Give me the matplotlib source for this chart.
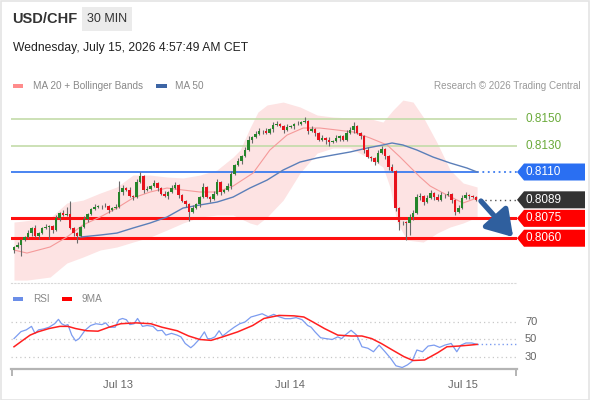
import matplotlib
matplotlib.use("Agg")
import matplotlib.pyplot as plt
import matplotlib.transforms as mtransforms
from matplotlib.patches import Polygon, Rectangle
import numpy as np

plt.rcParams['font.family'] = ['Liberation Sans', 'DejaVu Sans']

# ---------------- data ----------------
first_open = 0.80511
closes = [
    0.80534, 0.80549, 0.80586, 0.80609, 0.80639, 0.80677, 0.80617, 0.80639, 0.80677, 0.80685,
    0.80692, 0.80662, 0.80753, 0.80790, 0.80775, 0.80783, 0.80677, 0.80639, 0.80617, 0.80685,
    0.80745, 0.80783, 0.80821, 0.80836, 0.80843, 0.80843, 0.80843, 0.80813, 0.80828, 0.80836,
    0.80949, 0.80979, 0.80964, 0.80919, 0.80911, 0.81024, 0.81070, 0.80964, 0.80972, 0.80994,
    0.81017, 0.80979, 0.80934, 0.80919, 0.80949, 0.80979, 0.81002, 0.80926, 0.80881, 0.80858,
    0.80798, 0.80828, 0.80858, 0.80911, 0.80987, 0.80911, 0.80896, 0.80934, 0.81024, 0.80949,
    0.80964, 0.80994, 0.81085, 0.81153, 0.81183, 0.81221, 0.81266, 0.81341, 0.81364, 0.81387,
    0.81409, 0.81409, 0.81394, 0.81425, 0.81455, 0.81462, 0.81447, 0.81417, 0.81440, 0.81447,
    0.81462, 0.81462, 0.81477, 0.81485, 0.81409, 0.81425, 0.81394, 0.81341, 0.81357, 0.81341,
    0.81326, 0.81334, 0.81357, 0.81372, 0.81341, 0.81394, 0.81417, 0.81447, 0.81394, 0.81372,
    0.81266, 0.81213, 0.81206, 0.81175, 0.81243, 0.81274, 0.81221, 0.81138, 0.81107, 0.80828,
    0.80722, 0.80722, 0.80715, 0.80760, 0.80790, 0.80911, 0.80919, 0.80873, 0.80904, 0.80941,
    0.80911, 0.80888, 0.80926, 0.80926, 0.80934, 0.80888, 0.80798, 0.80828, 0.80904, 0.80926,
    0.80919, 0.80911, 0.80890,
]
wick_up_pips = [
    1, 2, 1, 1, 2, 1, 2, 1, 1, 2,
    1, 1, 2, 1, 2, 5, 10, 1, 1, 1,
    2, 1, 1, 2, 1, 1, 2, 1, 1, 2,
    8, 2, 1, 2, 1, 2, 3, 1, 2, 1,
    2, 1, 1, 2, 1, 2, 2, 1, 1, 1,
    1, 2, 1, 1, 3, 1, 1, 2, 2, 1,
    1, 2, 2, 1, 2, 1, 2, 3, 1, 2,
    2, 1, 2, 1, 2, 2, 1, 1, 2, 1,
    1, 2, 1, 3, 1, 2, 1, 1, 2, 1,
    2, 1, 2, 1, 1, 2, 2, 3, 1, 1,
    1, 2, 1, 1, 2, 2, 1, 1, 2, 1,
    1, 1, 1, 2, 2, 2, 2, 1, 2, 2,
    1, 2, 2, 1, 2, 1, 1, 2, 2, 2,
    1, 1, 1,
]
wick_dn_pips = [
    2, 1, 8, 1, 1, 2, 1, 2, 1, 1,
    9, 2, 1, 2, 1, 1, 1, 2, 5, 1,
    1, 2, 1, 1, 1, 2, 1, 2, 1, 1,
    1, 2, 1, 1, 2, 1, 1, 2, 1, 1,
    1, 2, 1, 1, 2, 1, 1, 2, 1, 2,
    7, 1, 1, 2, 1, 1, 2, 1, 1, 2,
    1, 1, 2, 1, 1, 2, 1, 1, 2, 1,
    1, 2, 1, 1, 2, 1, 1, 2, 1, 1,
    2, 1, 1, 1, 2, 1, 2, 1, 1, 3,
    3, 1, 1, 2, 1, 1, 1, 2, 1, 2,
    2, 1, 2, 2, 1, 1, 2, 2, 1, 2,
    6, 2, 13, 9, 2, 1, 2, 2, 1, 1,
    2, 1, 1, 2, 1, 2, 2, 1, 1, 1,
    2, 1, 1,
]

bb_upper_t = [0, 10.3, 15.1, 19.7, 24.6, 29.4, 34, 38.9, 43.7, 48.3, 53.1, 58, 62.6, 64.6, 67.4,
              69.7, 72.3, 76.9, 81.7, 86.6, 91.1, 96, 100.9, 105.4, 108.3, 111.1, 114, 116.9,
              120.9, 124.6, 128.3, 132.3]
bb_upper = [0.80722, 0.80753, 0.80866, 0.80888, 0.80941, 0.80987, 0.81077, 0.81077, 0.81062,
            0.81055, 0.81077, 0.81115, 0.81213, 0.81266, 0.81432, 0.81553, 0.81606, 0.81628,
            0.81591, 0.81530, 0.81515, 0.81508, 0.81508, 0.81477, 0.81568, 0.81643, 0.81628,
            0.81515, 0.81319, 0.81115, 0.81017, 0.80987]
bb_lower_t = [0, 3.7, 10.3, 15.1, 19.7, 24.6, 29.4, 34, 38.9, 43.7, 48.3, 53.1, 58, 62.6, 67.4,
              69.4, 72.3, 76.9, 81.7, 86.6, 91.1, 96, 100.9, 105.4, 107.4, 109.4, 112.3, 116.9,
              120.9, 124.6, 128.3, 132.3]
bb_lower = [0.80284, 0.80284, 0.80307, 0.80413, 0.80458, 0.80511, 0.80534, 0.80571, 0.80609,
            0.80662, 0.80715, 0.80760, 0.80775, 0.80775, 0.80715, 0.80700, 0.80760, 0.80888,
            0.81092, 0.81243, 0.81281, 0.81281, 0.81213, 0.81138, 0.80987, 0.80722, 0.80586,
            0.80571, 0.80639, 0.80685, 0.80715, 0.80760]
ma20_t = [0, 3.7, 10.3, 15.1, 19.7, 24.6, 29.4, 34, 38.9, 43.7, 48.3, 53.1, 58, 62.6, 68.3, 73.1,
          78, 82.6, 87.4, 92.3, 96.9, 101.7, 106.6, 110.3, 114, 116, 118.9, 122.6, 126.6, 128.3,
          132.3]
ma20 = [0.80511, 0.80488, 0.80534, 0.80609, 0.80700, 0.80760, 0.80828, 0.80904, 0.80949,
        0.80979, 0.80964, 0.80949, 0.80949, 0.80994, 0.81092, 0.81266, 0.81379, 0.81432,
        0.81432, 0.81417, 0.81402, 0.81357, 0.81304, 0.81213, 0.81115, 0.81062, 0.80994,
        0.80941, 0.80888, 0.80866, 0.80904]
ma50_t = [18.9, 24.6, 29.4, 34, 38.9, 43.7, 48.3, 53.1, 58, 62.6, 67.4, 72.3, 76.9, 81.7, 86.6,
          91.1, 96, 100.9, 105.4, 108, 111.1, 115.1, 119.7, 124.6, 129.4, 132.3]
ma50 = [0.80609, 0.80624, 0.80639, 0.80677, 0.80715, 0.80760, 0.80828, 0.80851, 0.80873,
        0.80911, 0.80979, 0.81039, 0.81115, 0.81175, 0.81206, 0.81228, 0.81251, 0.81281,
        0.81304, 0.81319, 0.81304, 0.81266, 0.81213, 0.81168, 0.81130, 0.81100]

levels_green = [0.8150, 0.8130]
level_blue = 0.8110
levels_red = [0.8075, 0.8060]
last_price = 0.8089
arrow_from = (133.4, 0.80881)
arrow_to = (142.6, 0.80609)

rsi_t = [0, 2, 3.5, 5, 6, 7, 8.4, 10, 11.6, 12.7, 13.6, 14.6, 15.4, 16.5, 17.6, 18.6, 20.3, 21.9,
         23.4, 25.1, 26.2, 27.3, 28.9, 30, 31, 32.1, 33.1, 34.3, 35.3, 36.7, 38, 39.7, 41, 42.3,
         43.4, 45, 46.6, 47.7, 48.9, 50.5, 51.4, 53.1, 54.4, 55.3, 56.3, 57.4, 58.6, 59.6, 61.1,
         62.9, 64.5, 66, 67.7, 69.3, 70.9, 72.6, 74.2, 75.7, 77.4, 79, 80.6, 82.3, 83.9, 84.9, 86,
         87.6, 89.1, 90.9, 92.5, 93.6, 94.6, 96.3, 97.9, 99.4, 101.1, 102.7, 104.3, 106, 107.6,
         109.1, 110.9, 112.4, 113.7, 115.1, 116.7, 118.3, 120, 121.6, 123.1, 124.9, 126.5, 127.7,
         129.1, 130.8, 132.3]
rsi_v = [51, 59, 61, 65, 57, 61, 62, 64, 68, 73, 68, 66, 67, 55, 48.5, 51, 60.5, 66,
         68, 67, 69, 64, 64, 72.6, 74, 72.6, 67, 68, 74, 65, 66, 65, 60, 60.5,
         55, 57, 55, 53, 45.5, 40.6, 43.6, 51, 58.7, 51, 51, 53, 60, 54, 58.7,
         64, 68, 70, 75.7, 77.5, 79.4, 76, 78.7, 76, 73.8, 73.8, 75, 72.6, 66, 64, 58.7,
         52, 51, 50, 53, 51, 55, 60.5, 55, 41.7, 40, 36, 43.6, 36, 28.5,
         20, 18, 21, 25, 38, 36, 42.5, 43.6, 41, 43.6, 45.5, 36, 43.6,
         46, 46, 44.4]
rsi_ma_t = [0, 2.5, 4.6, 6.8, 10, 13.1, 15.4, 17.6, 20.8, 24, 27.1, 30.5, 34.8, 39.1, 42.3, 46.6,
            49.9, 53.1, 56.3, 59.6, 63.9, 68.2, 71.4, 75.7, 80, 82.8, 85.4, 88.7, 92.5, 96.3,
            99.4, 102.2, 104.9, 108.1, 111.4, 114, 117.3, 121.1, 123.7, 127, 130.3, 132.3]
rsi_ma_v = [41.7, 49, 55, 58.7, 62.5, 65, 65, 62.5, 60, 59.5, 64, 68, 69, 68, 64, 60,
            54, 50, 49, 53, 58.7, 66, 74, 77.5, 77, 75.7, 70, 62.5, 55, 54,
            54, 51, 45.5, 38, 30.4, 26, 26.6, 35, 41.7, 42.5, 43.6, 44.4]
rsi_levels = [30, 50, 70]

day_ticks = [29.7, 78.9, 128.3]
day_labels = ['Jul 13', 'Jul 14', 'Jul 15']

# ---------------- layout ----------------
W, H = 590, 400
fig = plt.figure(figsize=(W / 100, H / 100), dpi=100)
fig.patch.set_facecolor('white')


def frac(x0, y0, x1, y1):
    return [x0 / W, 1 - y1 / H, (x1 - x0) / W, (y1 - y0) / H]


AX_L, AX_R = 11, 517
ax = fig.add_axes(frac(AX_L, 92, AX_R, 283))
XMIN, XMAX = -0.857, 143.7
YMIN, YMAX = 0.80262, 0.81704
ax.set_xlim(XMIN, XMAX)
ax.set_ylim(YMIN, YMAX)
ax.set_xticks([])
ax.set_yticks([])
for s in ['top', 'left', 'right']:
    ax.spines[s].set_visible(False)
ax.spines['bottom'].set_linestyle((0, (1, 2)))
ax.spines['bottom'].set_color('#d8d8d8')
ax.spines['bottom'].set_linewidth(0.8)
ax.patch.set_alpha(0)

# Bollinger band fill
band_t = sorted(set(bb_upper_t) | set(bb_lower_t))
up_i = np.interp(band_t, bb_upper_t, bb_upper)
lo_i = np.interp(band_t, bb_lower_t, bb_lower)
ax.fill_between(band_t, lo_i, up_i, color='#fde3e3', lw=0, zorder=1)

# level lines
n = len(closes)
last_t = n - 1
for lv in levels_green:
    ax.axhline(lv, color='#c3dba9', lw=1.2, zorder=2)
ax.hlines(level_blue, XMIN, last_t + 0.3, color='#3b7bf0', lw=1.3, zorder=2)
ax.hlines(level_blue, last_t + 0.3, XMAX, color='#3b7bf0', lw=1.3, linestyles=(0, (1, 2)), zorder=2)
for lv in levels_red:
    ax.axhline(lv, color='#ff1010', lw=2.2, zorder=2)
ax.hlines(last_price, last_t + 1, XMAX, color='#555555', lw=1.0, linestyles=(0, (1, 2.5)), zorder=2)

# moving averages
ax.plot(ma20_t, ma20, color='#f59a9a', lw=0.8, zorder=3)
ax.plot(ma50_t, ma50, color='#5b7fb9', lw=1.0, zorder=3)

# candles
t = np.arange(n)
c = np.array(closes)
o = np.concatenate([[first_open], c[:-1]])
hi = np.maximum(o, c) + np.array(wick_up_pips) * 0.0001
lo = np.minimum(o, c) - np.array(wick_dn_pips) * 0.0001
up = c >= o
ax.vlines(t, lo, hi, color='#6a6a6a', lw=0.8, zorder=4)
body_h = np.maximum(np.abs(c - o), 0.00003)
ax.bar(t[up], body_h[up], bottom=np.minimum(o, c)[up], width=0.75, color='#25852a', lw=0, zorder=5)
ax.bar(t[~up], body_h[~up], bottom=np.minimum(o, c)[~up], width=0.75, color='#e8121c', lw=0, zorder=5)

# arrow
ax.annotate('', xy=arrow_to, xytext=arrow_from,
            arrowprops=dict(arrowstyle='-|>,head_width=0.7,head_length=1.1', lw=3.8,
                            color='#2f5f9e', shrinkA=0, shrinkB=0, mutation_scale=14),
            zorder=6, annotation_clip=False)

# right-side tags
trans = mtransforms.blended_transform_factory(ax.transAxes, ax.transData)
dpp = (YMAX - YMIN) / (283 - 92)


def axx(px):
    return (px - AX_L) / (AX_R - AX_L)


def tag(level, color):
    h = 8.5 * dpp
    pts = [(axx(517), level), (axx(524), level + h), (axx(585), level + h),
           (axx(585), level - h), (axx(524), level - h)]
    ax.add_patch(Polygon(pts, closed=True, transform=trans, facecolor=color,
                         edgecolor='none', clip_on=False, zorder=7))
    ax.text(axx(525), level, f'{level:.4f}', transform=trans, color='white', fontsize=8.5,
            va='center', ha='left', clip_on=False, zorder=8)


for lv in levels_green:
    ax.text(axx(525), lv, f'{lv:.4f}', transform=trans, color='#6aaa3a', fontsize=8.5,
            va='center', ha='left', clip_on=False)
tag(level_blue, '#2a6ff2')
tag(last_price, '#333333')
for lv in levels_red:
    tag(lv, '#ff0000')

# ---------------- RSI panel ----------------
ax2 = fig.add_axes(frac(AX_L, 305, AX_R, 369))
ax2.set_xlim(XMIN, XMAX)
ax2.set_ylim(16.3, 89.4)
ax2.set_yticks([])
for s in ['top', 'left', 'right']:
    ax2.spines[s].set_visible(False)
ax2.spines['bottom'].set_color('#b4b4b4')
ax2.spines['bottom'].set_linewidth(1.6)
ax2.patch.set_alpha(0)
for lv in rsi_levels:
    ax2.axhline(lv, color='#c8c8c8', lw=0.9, linestyle=(0, (1, 2.5)))
trans2 = mtransforms.blended_transform_factory(ax2.transAxes, ax2.transData)
for lv in rsi_levels:
    ax2.text(axx(525), lv, str(lv), transform=trans2, color='#666666', fontsize=8,
             va='center', ha='left', clip_on=False)
ax2.plot(rsi_t, rsi_v, color='#7c9cf0', lw=0.9, zorder=3)
ax2.plot(rsi_ma_t, rsi_ma_v, color='#ff2020', lw=1.1, zorder=4)
ax2.hlines(rsi_v[-1], rsi_t[-1], XMAX, color='#7c9cf0', lw=1.0, linestyles=(0, (1, 2)))
ax2.set_xticks(day_ticks, day_labels)
ax2.set_xticks([XMIN + 0.2, XMAX - 0.2], minor=True)
ax2.tick_params(axis='x', which='major', length=0, pad=8, labelcolor='#666666', labelsize=8)
ax2.tick_params(axis='x', which='minor', length=5, width=1.4, color='#b4b4b4')

# ---------------- header / legends ----------------
def ftext(x, y, s, **kw):
    fig.text(x / W, 1 - y / H, s, **kw)


def frect(x0, y0, x1, y1, color):
    fig.add_artist(Rectangle((x0 / W, 1 - y1 / H), (x1 - x0) / W, (y1 - y0) / H,
                             transform=fig.transFigure, facecolor=color, edgecolor='none'))


fig.add_artist(Rectangle((0.5 / W, 0.5 / H), (W - 1.5) / W, (H - 1.5) / H, transform=fig.transFigure,
                         facecolor='none', edgecolor='#e4e4e4', lw=1.2))
ftext(12, 19, 'USD/CHF', fontsize=10.5, fontweight='bold', color='#333333', va='center', ha='left')
frect(82, 7, 132, 31, '#ebebeb')
ftext(107, 19.5, '30 MIN', fontsize=9, color='#333333', va='center', ha='center')
ftext(13, 48, 'Wednesday, July 15, 2026 4:57:49 AM CET', fontsize=8.7, color='#222222',
      va='center', ha='left')

frect(13, 84, 23, 88, '#ff8c8c')
ftext(33, 86, 'MA 20 + Bollinger Bands', fontsize=7.2, color='#888888', va='center', ha='left')
frect(156, 84, 167, 88, '#3d65a5')
ftext(175, 86, 'MA 50', fontsize=7.2, color='#888888', va='center', ha='left')
ftext(581, 86, 'Research \u00a9 2026 Trading Central', fontsize=7.1, color='#999999',
      va='center', ha='right')

frect(13, 297, 23, 301, '#6b8ee8')
ftext(33, 299, 'RSI', fontsize=7.2, color='#888888', va='center', ha='left')
frect(62, 297, 72, 301, '#ff0000')
ftext(82, 299, '9MA', fontsize=7.2, color='#888888', va='center', ha='left')

fig.savefig('out.png', dpi=100)
